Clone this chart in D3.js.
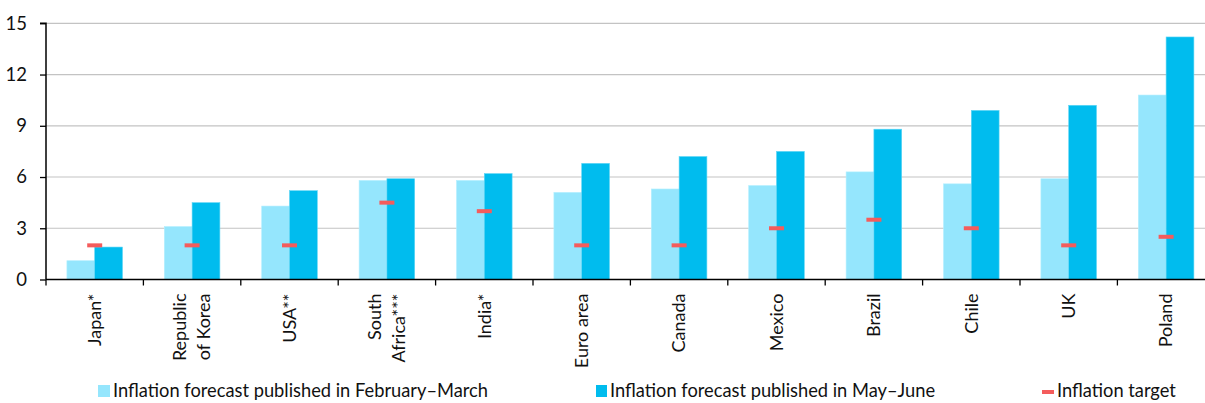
<!DOCTYPE html>
<html>
<head>
<meta charset="utf-8">
<script src="https://cdn.jsdelivr.net/npm/d3@7/dist/d3.min.js"></script>
<style>
  html, body { margin: 0; padding: 0; background: #fff; overflow: hidden; }
  svg { display: block; font-family: Lato, "Open Sans", sans-serif; }
</style>
</head>
<body>
<svg id="chart" width="1205" height="403"></svg>
<script>
// Countries (multi-line labels split on "|")
const categories = ["Japan*", "Republic|of Korea", "USA**", "South|Africa***", "India*", "Euro area",
  "Canada", "Mexico", "Brazil", "Chile", "UK", "Poland"];
const forecastFebMar = [1.1, 3.1, 4.3, 5.8, 5.8, 5.1, 5.3, 5.5, 6.3, 5.6, 5.9, 10.8];
const forecastMayJun = [1.9, 4.5, 5.2, 5.9, 6.2, 6.8, 7.2, 7.5, 8.8, 9.9, 10.2, 14.2];
const inflationTarget = [2, 2, 2, 4.5, 4, 2, 2, 3, 3.5, 3, 2, 2.5];
const yTicks = [0, 3, 6, 9, 12, 15];
const legendLabels = ["Inflation forecast published in February\u2013March",
  "Inflation forecast published in May\u2013June", "Inflation target"];

(function () {
const colLight = "#95e6fd", colDark = "#00bcee", colTarget = "#f45c5c";

const svg = d3.select("#chart");
const plotLeft = 46, plotTop = 23.3, plotBottom = 279.5;
const band = 97.4;

const x = d3.scaleBand().domain(categories).range([plotLeft, plotLeft + band * categories.length]).padding(0);
const y = d3.scaleLinear().domain([0, 15]).range([plotBottom, plotTop]);

// gridlines
svg.append("g").selectAll("line").data(yTicks.filter(d => d > 0)).join("line")
  .attr("x1", plotLeft).attr("x2", 1205)
  .attr("y1", d => y(d)).attr("y2", d => y(d))
  .attr("stroke", "#c3c3c3").attr("stroke-width", 1.2);

const barW = 27.8;
const cx = d => x(d) + x.bandwidth() / 2;

// Feb–Mar bars
svg.append("g").selectAll("rect").data(categories).join("rect")
  .attr("x", d => cx(d) - barW)
  .attr("y", (d, i) => y(forecastFebMar[i]))
  .attr("width", barW)
  .attr("height", (d, i) => plotBottom - y(forecastFebMar[i]))
  .attr("fill", colLight).attr("stroke", "#b4efff").attr("stroke-width", 0.6);

// May–June bars
svg.append("g").selectAll("rect").data(categories).join("rect")
  .attr("x", d => cx(d))
  .attr("y", (d, i) => y(forecastMayJun[i]))
  .attr("width", barW)
  .attr("height", (d, i) => plotBottom - y(forecastMayJun[i]))
  .attr("fill", colDark).attr("stroke", "#5fd6f6").attr("stroke-width", 0.6);

// inflation target markers
svg.append("g").selectAll("rect").data(categories).join("rect")
  .attr("x", d => cx(d) - 7.5)
  .attr("y", (d, i) => y(inflationTarget[i]) - 2)
  .attr("width", 15).attr("height", 4)
  .attr("fill", colTarget);

// y axis
const yAxis = d3.axisLeft(y).tickValues(yTicks).tickSize(6).tickPadding(13).tickFormat(d3.format("d"));
const gy = svg.append("g").attr("transform", `translate(${plotLeft},0)`).call(yAxis);
gy.select(".domain").attr("stroke", "#000").attr("stroke-width", 1.5).attr("d", `M-6,${plotTop}H0V${plotBottom}`);
gy.selectAll(".tick line").attr("stroke", "#000").attr("stroke-width", 1.3);
gy.selectAll(".tick text").attr("font-size", 18.5).attr("fill", "#111").attr("font-family", "Lato, sans-serif");

// x axis with ticks on band boundaries
svg.append("line").attr("x1", plotLeft).attr("x2", 1205).attr("y1", plotBottom).attr("y2", plotBottom)
  .attr("stroke", "#000").attr("stroke-width", 1.5);
svg.append("g").selectAll("line").data(categories).join("line")
  .attr("x1", d => x(d)).attr("x2", d => x(d))
  .attr("y1", plotBottom).attr("y2", plotBottom + 6)
  .attr("stroke", "#000").attr("stroke-width", 1.3);

// rotated category labels
const lab = svg.append("g").selectAll("text").data(categories).join("text")
  .attr("transform", d => `translate(${cx(d)},${plotBottom + 14}) rotate(-90)`)
  .attr("text-anchor", "end")
  .attr("font-size", 18).attr("fill", "#111");
lab.each(function(d) {
  const lines = d.split("|");
  const n = lines.length;
  const lh = 24;
  d3.select(this).selectAll("tspan").data(lines).join("tspan")
    .attr("x", 0)
    .attr("y", (l, i) => (i - (n - 1) / 2) * lh)
    .attr("dy", "0.35em")
    .text(l => l);
});

// legend
const leg = svg.append("g");
const ly = 391;
const fs = 18.3;
leg.append("rect").attr("x", 98).attr("y", ly - 6).attr("width", 12).attr("height", 12).attr("fill", colLight);
leg.append("text").attr("x", 113).attr("y", ly).attr("dy", "0.35em").attr("font-size", fs).attr("fill", "#111").text(legendLabels[0]);
leg.append("rect").attr("x", 596).attr("y", ly - 6).attr("width", 11).attr("height", 12).attr("fill", colDark);
leg.append("text").attr("x", 610).attr("y", ly).attr("dy", "0.35em").attr("font-size", fs).attr("fill", "#111").text(legendLabels[1]);
leg.append("rect").attr("x", 1042).attr("y", ly - 1).attr("width", 12).attr("height", 4).attr("fill", colTarget);
leg.append("text").attr("x", 1057).attr("y", ly).attr("dy", "0.35em").attr("font-size", fs).attr("fill", "#111").text(legendLabels[2]);
})();
</script>
</body>
</html>
